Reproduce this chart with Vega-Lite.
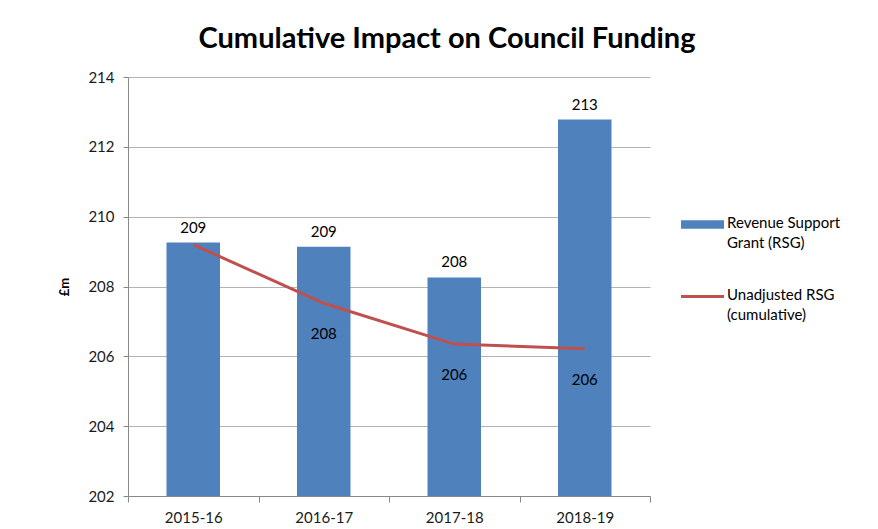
{
  "$schema": "https://vega.github.io/schema/vega-lite/v6.json",
  "width": 522,
  "height": 419,
  "autosize": {"type": "none"},
  "padding": {"left": 128, "top": 77, "right": 228, "bottom": 33},
  "background": "white",
  "config": {
    "view": {"stroke": null},
    "font": "Lato"
  },
  "title": {
    "text": "Cumulative Impact on Council Funding",
    "fontSize": 29,
    "font": "Lato",
    "fontWeight": "bold",
    "color": "#000000",
    "anchor": "middle",
    "dx": 58,
    "offset": 16
  },
  "data": {
    "values": [
      {"year": "2015-16", "rsg": 209.26, "unadj": 209.2},
      {"year": "2016-17", "rsg": 209.14, "unadj": 207.52},
      {"year": "2017-18", "rsg": 208.26, "unadj": 206.35},
      {"year": "2018-19", "rsg": 212.78, "unadj": 206.22}
    ]
  },
  "encoding": {
    "x": {
      "field": "year",
      "type": "nominal",
      "sort": null,
      "scale": {"paddingInner": 0, "paddingOuter": 0},
      "axis": {
        "title": null,
        "labelAngle": 0,
        "tickBand": "extent",
        "tickSize": 6,
        "tickColor": "#888888",
        "domainColor": "#888888",
        "labelFontSize": 15,
        "labelFont": "Lato",
        "labelColor": "#1a1a1a",
        "labelPadding": 8,
        "grid": false
      }
    }
  },
  "layer": [
    {
      "mark": {"type": "bar", "color": "#4F81BD", "width": {"band": 0.41}},
      "encoding": {
        "y": {
          "field": "rsg",
          "type": "quantitative",
          "scale": {"domain": [202, 214], "nice": false, "zero": false},
          "axis": {
            "title": "£m",
            "titleFontSize": 13,
            "titleFont": "Lato",
            "titleFontWeight": "bold",
            "titleColor": "#000000",
            "titlePadding": 16,
            "values": [202, 204, 206, 208, 210, 212, 214],
            "grid": true,
            "gridColor": "#B3B3B3",
            "domainColor": "#888888",
            "tickColor": "#888888",
            "tickSize": 5,
            "labelFontSize": 15,
            "labelFont": "Lato",
            "labelColor": "#1a1a1a",
            "labelPadding": 9
          }
        },
        "y2": {"datum": 202},
        "color": {
          "datum": "RSG",
          "type": "nominal",
          "scale": {"domain": ["RSG", "Unadj"], "range": ["#4F81BD", "#C0504D"]},
          "legend": {
            "title": null,
            "orient": "none",
            "legendX": 567,
            "legendY": 140,
            "labelFontSize": 15,
            "labelFont": "Lato",
            "labelColor": "#000000",
            "labelBaseline": "top",
            "labelOffset": 17,
            "rowPadding": 36,
            "symbolSize": 1850,
            "labelExpr": "datum.value === 'RSG' ? ['Revenue Support', 'Grant (RSG)'] : ['Unadjusted RSG', '(cumulative)']",
            "encode": {
              "symbols": {
                "update": {
                  "shape": {"signal": "datum.value === 'RSG' ? 'M-1,-0.2H1V0.2H-1Z' : 'M-1,0H1'"},
                  "fill": {"signal": "datum.value === 'RSG' ? '#4F81BD' : 'transparent'"},
                  "stroke": {"signal": "datum.value === 'RSG' ? '#4F81BD' : '#C0504D'"},
                  "strokeWidth": {"signal": "datum.value === 'RSG' ? 0 : 3"},
                  "opacity": {"value": 1}
                }
              },
              "labels": {
                "update": {
                  "dy": {"value": -9},
                  "lineHeight": {"value": 20}
                }
              }
            }
          }
        }
      }
    },
    {
      "mark": {"type": "line", "strokeWidth": 3},
      "encoding": {
        "y": {"field": "unadj", "type": "quantitative"},
        "color": {"datum": "Unadj", "type": "nominal"}
      }
    },
    {
      "mark": {"type": "text", "baseline": "bottom", "dy": -7, "fontSize": 15, "font": "Lato", "color": "#000000"},
      "encoding": {
        "y": {"field": "rsg", "type": "quantitative"},
        "text": {"field": "rsg", "type": "quantitative", "format": ".0f"}
      }
    },
    {
      "transform": [{"filter": "datum.year !== '2015-16'"}],
      "mark": {"type": "text", "baseline": "middle", "dy": 31, "fontSize": 15, "font": "Lato", "color": "#000000"},
      "encoding": {
        "y": {"field": "unadj", "type": "quantitative"},
        "text": {"field": "unadj", "type": "quantitative", "format": ".0f"}
      }
    }
  ]
}
